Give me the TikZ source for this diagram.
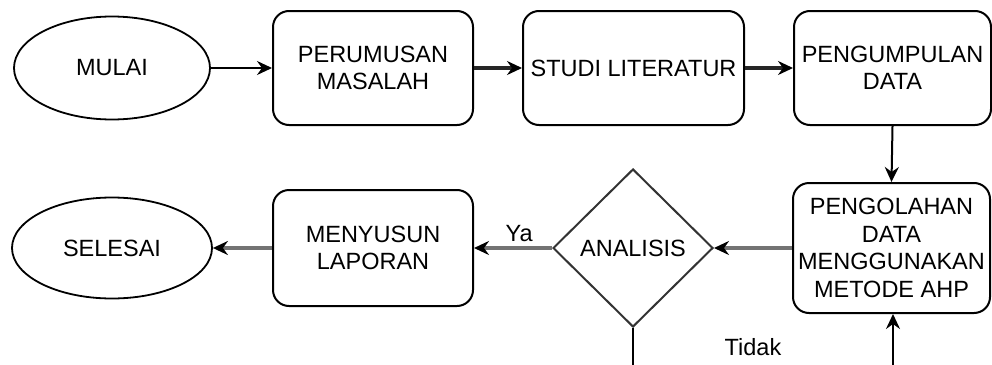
\documentclass[tikz,border=0pt]{standalone}
\usepackage{fontspec}
\setmainfont{Liberation Sans}
\usetikzlibrary{shapes.geometric,arrows.meta}
\begin{document}
\begin{tikzpicture}[x=1pt,y=-1pt,
  every node/.style={font=\fontsize{23.5}{27.5}\selectfont, align=center, text=black},
  proc/.style={draw=black, line width=2pt, rounded corners=16pt, inner sep=2pt},
  term/.style={draw=black, line width=1.8pt, ellipse, inner sep=0pt},
  dec/.style={draw=black!80, line width=2pt, diamond, aspect=1, inner sep=0pt},
  tip/.style={-{Stealth[length=15pt,width=14pt,inset=5pt,color=black]}},
  thin conn/.style={tip, draw=black, line width=2pt},
  thick conn/.style={tip, draw=black!85, line width=3.4pt},
  grey conn/.style={tip, draw=black!55, line width=3.4pt},
  plain conn/.style={draw=black, line width=2pt}
]
\useasboundingbox (0,0) rectangle (992,364);

% top row
\node[term, minimum width=196pt, minimum height=103pt] (mulai) at (112,68) {MULAI};
\node[proc, minimum width=200pt, minimum height=114pt] (rumus) at (373,68) {PERUMUSAN\\MASALAH};
\node[proc, minimum width=221pt, minimum height=114pt] (studi) at (633.5,68) {STUDI LITERATUR};
\node[proc, minimum width=197pt, minimum height=114pt] (kumpul) at (892.5,68) {PENGUMPULAN\\DATA};

% second row
\node[proc, minimum width=197pt, minimum height=130pt] (olah) at (891.5,248) {PENGOLAHAN\\DATA\\MENGGUNAKAN\\METODE AHP};
\node[dec, minimum width=160pt, minimum height=158pt] (analisis) at (633,248) {ANALISIS};
\node[proc, minimum width=200pt, minimum height=116pt] (susun) at (373,248) {MENYUSUN\\LAPORAN};
\node[term, minimum width=200pt, minimum height=101pt] (selesai) at (112,248) {SELESAI};

% bottom off-image points of the "Tidak" loop
\coordinate (tA) at (633,368);
\coordinate (tB) at (893,368);

% connectors
\draw[thin conn] (mulai.east) -- (rumus.west);
\draw[thick conn] (rumus.east) -- (studi.west);
\draw[thick conn] (studi.east) -- (kumpul.west);
\draw[thin conn] (kumpul.south) -- (olah.north);
\draw[grey conn] (olah.west) -- (analisis.east);
\draw[grey conn] (analisis.west) -- node[pos=0.42, anchor=base, yshift=7pt, inner sep=0pt] (ya) {Ya} (susun.east);
\draw[grey conn] (susun.west) -- (selesai.east);
\draw[plain conn] (analisis.south) -- (tA);
\draw[thin conn] (tB) -- (tB |- olah.south);
\node (tidak) at (753,347) {Tidak};
\end{tikzpicture}
\end{document}
